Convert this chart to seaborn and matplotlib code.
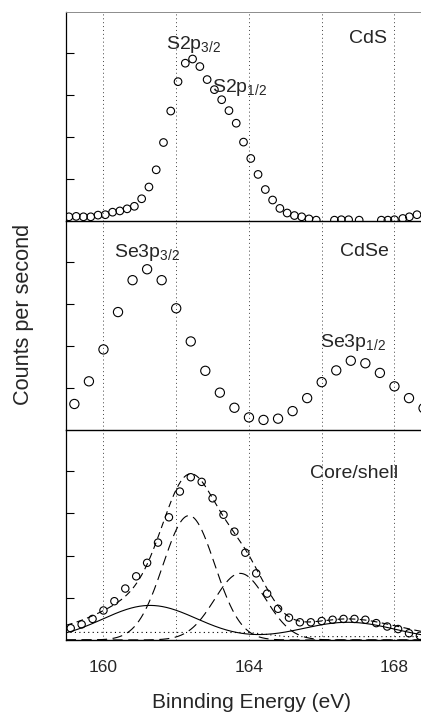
import numpy as np
import pandas as pd
import matplotlib
matplotlib.use("Agg")
import matplotlib.pyplot as plt
import seaborn as sns

# ---- measured spectra (binding energy in eV, counts in arbitrary units) ----
cds_energy = [159.05, 159.25, 159.45, 159.65, 159.85, 160.05, 160.25, 160.45, 160.65,
              160.85, 161.05, 161.25, 161.45, 161.65, 161.85, 162.05, 162.25, 162.45,
              162.65, 162.85, 163.05, 163.25, 163.45, 163.65, 163.85, 164.05, 164.25,
              164.45, 164.65, 164.85, 165.05, 165.25, 165.45, 165.65, 165.85,
              166.35, 166.54, 166.74, 167.03, 167.64, 167.82, 168.0, 168.23, 168.41, 168.62]
cds_counts = [0.10, 0.11, 0.10, 0.10, 0.14, 0.15, 0.21, 0.24, 0.29,
              0.35, 0.53, 0.81, 1.22, 1.87, 2.62, 3.32, 3.76, 3.86,
              3.68, 3.37, 3.13, 2.89, 2.63, 2.33, 1.88, 1.49, 1.11,
              0.75, 0.50, 0.30, 0.19, 0.13, 0.10, 0.05, 0.02,
              0.02, 0.03, 0.03, 0.02, 0.02, 0.02, 0.03, 0.06, 0.10, 0.15]

cdse_energy = [159.2, 159.6, 160.0, 160.4, 160.8, 161.2, 161.6, 162.0, 162.4, 162.8,
               163.2, 163.6, 164.0, 164.4, 164.8, 165.2, 165.6, 166.0, 166.4, 166.8,
               167.2, 167.6, 168.0, 168.4, 168.8]
cdse_counts = [0.62, 1.16, 1.92, 2.81, 3.57, 3.83, 3.57, 2.90, 2.11, 1.41,
               0.89, 0.53, 0.30, 0.24, 0.27, 0.45, 0.76, 1.14, 1.42, 1.65,
               1.59, 1.36, 1.04, 0.76, 0.52]

cs_energy = [159.1, 159.4, 159.7, 160.0, 160.3, 160.6, 160.9, 161.2, 161.5, 161.8,
             162.1, 162.4, 162.7, 163.0, 163.3, 163.6, 163.9, 164.2, 164.5, 164.8,
             165.1, 165.4, 165.7, 166.0, 166.3, 166.6, 166.9, 167.2, 167.5, 167.8,
             168.1, 168.4, 168.7]
cs_counts = [0.28, 0.37, 0.50, 0.70, 0.92, 1.22, 1.51, 1.83, 2.31, 2.91,
             3.52, 3.86, 3.75, 3.36, 2.97, 2.57, 2.07, 1.58, 1.10, 0.74,
             0.53, 0.42, 0.42, 0.45, 0.48, 0.50, 0.50, 0.48, 0.40, 0.32,
             0.26, 0.16, 0.10]

# ---- Gaussian fit components for the core/shell spectrum ----
se_centers = [161.28, 166.72]      # Se3p 3/2, Se3p 1/2
se_heights = [0.82, 0.42]
se_sigma = 1.30
s_centers = [162.35, 163.76]       # S2p 3/2, S2p 1/2
s_heights = [2.95, 1.58]
s_sigma = 0.71
bg_energy = [158.97, 164.0, 165.0, 168.73]
bg_level = [0.18, 0.18, 0.08, 0.08]

x_range = (158.97, 168.73)
grid_ticks = [160, 162, 164, 166, 168]
tick_text = ["160", "", "164", "", "168"]


def gauss(x, c, h, s):
    return h * np.exp(-(x - c) ** 2 / (2 * s ** 2))


sns.set_theme(style="white")
plt.rcParams["font.family"] = ["Liberation Sans", "DejaVu Sans"]
plt.rcParams["mathtext.fontset"] = "custom"
plt.rcParams["mathtext.rm"] = "Liberation Sans"
plt.rcParams["mathtext.it"] = "Liberation Sans"

fig = plt.figure(figsize=(4.21, 7.13), dpi=100)
H = 713.0
axes = []
for top_px, bot_px in [(12, 221), (221, 430), (430, 640)]:
    ax = fig.add_axes([66 / 421, (H - bot_px) / H, 1 - 66 / 421, (bot_px - top_px) / H])
    axes.append(ax)

mk = dict(marker="o", facecolor="none", edgecolor="black", linewidth=0.8)

sns.scatterplot(data=pd.DataFrame({"E": cds_energy, "I": cds_counts}), x="E", y="I",
                ax=axes[0], s=30, **mk)
sns.scatterplot(data=pd.DataFrame({"E": cdse_energy, "I": cdse_counts}), x="E", y="I",
                ax=axes[1], s=44, **mk)
sns.scatterplot(data=pd.DataFrame({"E": cs_energy, "I": cs_counts}), x="E", y="I",
                ax=axes[2], s=28, **mk)

# fitted curves in the core/shell panel
xf = np.linspace(x_range[0], x_range[1], 600)
se_sum = sum(gauss(xf, c, h, se_sigma) for c, h in zip(se_centers, se_heights))
s32 = gauss(xf, s_centers[0], s_heights[0], s_sigma)
s12 = gauss(xf, s_centers[1], s_heights[1], s_sigma)
bg = np.interp(xf, bg_energy, bg_level)
envelope = se_sum + s32 + s12 + bg

ax = axes[2]
sns.lineplot(x=xf, y=se_sum, ax=ax, color="black", lw=0.8)
sns.lineplot(x=xf, y=s32, ax=ax, color="black", lw=0.8, linestyle=(0, (9, 5)))
sns.lineplot(x=xf, y=s12, ax=ax, color="black", lw=0.8, linestyle=(0, (9, 5)))
sns.lineplot(x=xf, y=envelope, ax=ax, color="black", lw=0.8, linestyle=(0, (6, 4)))
sns.lineplot(x=xf, y=bg, ax=ax, color="black", lw=0.8, linestyle=(0, (1, 3)))

for i, ax in enumerate(axes):
    ax.set_xlim(*x_range)
    ax.set_ylim(0, 4.98)
    ax.set_xlabel("")
    ax.set_ylabel("")
    for xv in grid_ticks:
        ax.axvline(xv, color="0.25", lw=0.7, linestyle=(0, (1, 3)), zorder=0)
    ax.set_xticks(grid_ticks)
    ax.set_yticks([1, 2, 3, 4])
    ax.set_yticklabels([])
    ax.tick_params(axis="x", direction="inout", length=9, width=0.8, color="black",
                   labelsize=12.5, pad=10)
    ax.tick_params(axis="y", direction="in", length=6, width=0.8, color="black", left=True)
    ax.spines["right"].set_visible(False)
    ax.spines["left"].set_color("black")
    ax.spines["left"].set_linewidth(0.9)
    ax.spines["bottom"].set_color("black")
    ax.spines["bottom"].set_linewidth(1.0)
    if i == 0:
        ax.spines["top"].set_color("0.55")
        ax.spines["top"].set_linewidth(0.7)
    else:
        ax.spines["top"].set_visible(False)
    if i < 2:
        ax.set_xticklabels([])
    else:
        ax.set_xticklabels(tick_text)
    ax.set_facecolor("none")

fs = 14
axes[0].text(161.72, 4.1, r"S2p$_{3/2}$", fontsize=fs)
axes[0].text(162.98, 3.08, r"S2p$_{1/2}$", fontsize=fs)
axes[0].text(166.74, 4.25, "CdS", fontsize=fs)
axes[1].text(160.29, 4.13, r"Se3p$_{3/2}$", fontsize=fs)
axes[1].text(166.49, 4.14, "CdSe", fontsize=fs)
axes[1].text(165.96, 1.97, r"Se3p$_{1/2}$", fontsize=fs)
axes[2].text(165.68, 3.85, "Core/shell", fontsize=fs)

fig.text(24 / 421, 1 - 314 / H, "Counts per second", rotation=90, fontsize=15.6,
         ha="center", va="center")
fig.text(251 / 421, 1 - 703 / H, "Binnding Energy (eV)", fontsize=15,
         ha="center", va="center")

fig.savefig("out.png", dpi=100)
